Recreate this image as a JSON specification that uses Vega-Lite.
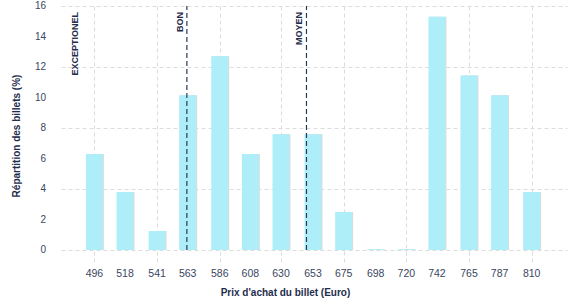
{
  "$schema": "https://vega.github.io/schema/vega-lite/v6.json",
  "width": 506,
  "height": 259,
  "autosize": {"type": "none"},
  "padding": {"left": 61, "top": 6, "right": 10, "bottom": 35},
  "background": "white",
  "config": {
    "font": "Liberation Sans",
    "view": {"stroke": null},
    "axis": {
      "domain": false,
      "ticks": false,
      "labels": false,
      "grid": true,
      "gridColor": "#dcdcdc",
      "gridDash": [4, 3],
      "gridWidth": 1,
      "titleColor": "#1f2d4d",
      "titleFontSize": 10,
      "titleFontWeight": "bold"
    }
  },
  "datasets": {
    "billets": [
      {"prix": 496, "part": 6.3},
      {"prix": 518, "part": 3.8},
      {"prix": 541, "part": 1.25},
      {"prix": 563, "part": 10.15},
      {"prix": 586, "part": 12.7},
      {"prix": 608, "part": 6.3},
      {"prix": 630, "part": 7.6},
      {"prix": 653, "part": 7.6},
      {"prix": 675, "part": 2.5},
      {"prix": 698, "part": 0.05},
      {"prix": 720, "part": 0.05},
      {"prix": 742, "part": 15.3},
      {"prix": 765, "part": 11.45},
      {"prix": 787, "part": 10.15},
      {"prix": 810, "part": 3.8}
    ],
    "graduations": [
      {"v": 0}, {"v": 2}, {"v": 4}, {"v": 6}, {"v": 8},
      {"v": 10}, {"v": 12}, {"v": 14}, {"v": 16}
    ],
    "seuils": [
      {"label": "EXCEPTIONEL", "prix": 486.9},
      {"label": "BON", "prix": 562.4},
      {"label": "MOYEN", "prix": 648.3}
    ]
  },
  "layer": [
    {
      "data": {"name": "billets"},
      "encoding": {
        "x": {
          "field": "prix",
          "type": "quantitative",
          "scale": {"domain": [475.6, 831.8], "nice": false, "zero": false},
          "axis": {
            "values": [496, 518, 541, 563, 586, 608, 630, 653, 675, 698, 720, 742, 765, 787, 810],
            "labels": false,
            "title": "Prix d'achat du billet (Euro)",
            "titlePadding": 22,
            "titleX": 224
          }
        },
        "y": {
          "field": "part",
          "type": "quantitative",
          "scale": {"domain": [-0.98, 16], "nice": false, "zero": false},
          "axis": {
            "values": [0, 2, 4, 6, 8, 10, 12, 14, 16],
            "labels": false,
            "title": "Répartition des billets (%)",
            "titlePadding": 40
          }
        },
        "y2": {"datum": 0}
      },
      "layer": [
        {"mark": {"type": "bar", "width": 17, "xOffset": 1, "color": "#dcdcdc"}},
        {"mark": {"type": "bar", "width": 17, "color": "#adeef8"}},
        {
          "mark": {"type": "text", "baseline": "top", "align": "center", "dy": 4, "fontSize": 10.5, "color": "#3a4660"},
          "encoding": {
            "y": {"datum": -0.98},
            "y2": null,
            "text": {"field": "prix", "type": "quantitative", "format": "d"}
          }
        }
      ]
    },
    {
      "data": {"name": "graduations"},
      "mark": {"type": "text", "align": "right", "baseline": "middle", "dx": -20, "fontSize": 10, "color": "#3a4660"},
      "encoding": {
        "x": {"datum": 475.6},
        "y": {"field": "v", "type": "quantitative"},
        "text": {"field": "v", "type": "quantitative", "format": "d"}
      }
    },
    {
      "data": {"name": "seuils"},
      "transform": [{"filter": "datum.label != 'EXCEPTIONEL'"}],
      "mark": {"type": "rule", "color": "#2b3a57", "strokeDash": [5, 3], "strokeWidth": 1.2},
      "encoding": {
        "x": {"field": "prix", "type": "quantitative"},
        "y": {"datum": 0},
        "y2": {"datum": 16}
      }
    },
    {
      "data": {"name": "seuils"},
      "mark": {"type": "text", "angle": 270, "align": "right", "baseline": "alphabetic", "dy": -4, "fontSize": 9, "fontWeight": "bold", "color": "#1f2d4d"},
      "encoding": {
        "x": {"field": "prix", "type": "quantitative"},
        "y": {"datum": 15.6},
        "text": {"field": "label"}
      }
    }
  ]
}
